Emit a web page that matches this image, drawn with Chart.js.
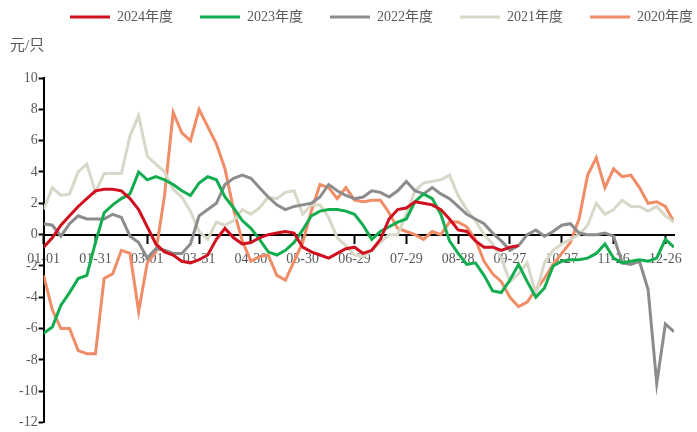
<!DOCTYPE html>
<html>
<head>
<meta charset="utf-8">
<script src="https://cdn.jsdelivr.net/npm/chart.js@4/dist/chart.umd.min.js"></script>
<style>
    html, body { margin: 0; padding: 0; background: #fff; }
    #wrap { width: 697px; height: 432px; }
</style>
</head>
<body>
<div id="wrap"><canvas id="chartPrice" width="697" height="432"></canvas></div>
<script>
// day of year for each sample (every 5 days)
const days = [0, 5, 10, 15, 20, 25, 30, 35, 40, 45, 50, 55, 60, 65, 70, 75, 80, 85, 90, 95,
    100, 105, 110, 115, 120, 125, 130, 135, 140, 145, 150, 155, 160, 165, 170, 175, 180, 185, 190, 195,
    200, 205, 210, 215, 220, 225, 230, 235, 240, 245, 250, 255, 260, 265, 270, 275, 280, 285, 290, 295,
    300, 305, 310, 315, 320, 325, 330, 335, 340, 345, 350, 355, 360, 365];

const tickDays = [0, 30, 60, 90, 120, 150, 180, 210, 240, 270, 300, 330, 360];
const tickLabels = ["01-01", "01-31", "03-01", "03-31", "04-30", "05-30", "06-29",
    "07-29", "08-28", "09-27", "10-27", "11-26", "12-26"];

const seriesNames = ["2024年度", "2023年度", "2022年度", "2021年度", "2020年度"];

const y2024 = [-0.8, -0.2, 0.6, 1.2, 1.8, 2.3, 2.8, 2.9, 2.9, 2.8,
    2.3, 1.6, 0.5, -0.6, -1.1, -1.3, -1.7, -1.8, -1.6, -1.3,
    -0.3, 0.4, -0.2, -0.6, -0.5, -0.2, 0.0, 0.1, 0.2, 0.1,
    -0.8, -1.1, -1.3, -1.5, -1.2, -0.9, -0.8, -1.2, -1.0, -0.3,
    1.0, 1.6, 1.7, 2.1, 2.0, 1.9, 1.6, 1.0, 0.3, 0.2,
    -0.4, -0.8, -0.8, -1.0, -0.8, -0.7, null, null, null, null,
    null, null, null, null, null, null, null, null, null, null,
    null, null, null, null];

const y2023 = [-6.3, -5.9, -4.5, -3.7, -2.8, -2.6, -0.5, 1.4, 1.9, 2.3,
    2.6, 4.0, 3.5, 3.7, 3.5, 3.2, 2.8, 2.5, 3.3, 3.7,
    3.5, 2.4, 1.7, 0.9, 0.4, -0.3, -1.1, -1.3, -1.0, -0.5,
    0.3, 1.2, 1.5, 1.6, 1.6, 1.5, 1.3, 0.6, -0.3, 0.2,
    0.5, 0.8, 1.0, 2.1, 2.6, 2.3, 1.3, -0.4, -1.2, -1.9,
    -1.8, -2.6, -3.6, -3.7, -2.9, -1.9, -3.0, -4.0, -3.4, -2.0,
    -1.7, -1.6, -1.6, -1.5, -1.2, -0.6, -1.5, -1.8, -1.7, -1.6,
    -1.7, -1.5, -0.3, -0.8];

const y2022 = [0.7, 0.6, -0.1, 0.7, 1.2, 1.0, 1.0, 1.0, 1.3, 1.1,
    -0.1, -0.5, -1.5, -0.9, -1.0, -1.2, -1.2, -0.6, 1.2, 1.6,
    2.0, 3.2, 3.6, 3.8, 3.6, 3.0, 2.4, 1.9, 1.6, 1.8,
    1.9, 2.0, 2.4, 3.2, 2.8, 2.5, 2.3, 2.4, 2.8, 2.7,
    2.4, 2.8, 3.4, 2.8, 2.6, 3.0, 2.6, 2.3, 1.8, 1.3,
    1.0, 0.7, 0.1, -0.4, -1.0, -0.7, 0.0, 0.3, -0.1, 0.2,
    0.6, 0.7, 0.1, 0.0, 0.0, 0.1, -0.1, -1.8, -1.9, -1.7,
    -3.5, -9.5, -5.7, -6.2];

const y2021 = [1.6, 3.0, 2.5, 2.6, 4.0, 4.5, 2.7, 3.9, 3.9, 3.9,
    6.3, 7.6, 5.0, 4.5, 4.0, 2.9, 2.4, 1.5, 0.2, -0.3,
    0.8, 0.6, 0.9, 1.6, 1.3, 1.7, 2.4, 2.3, 2.7, 2.8,
    1.3, 1.9, 1.9, 1.1, -0.2, -0.7, -1.3, -1.4, -1.0, -0.5,
    0.0, 0.0, 1.3, 2.8, 3.3, 3.4, 3.5, 3.8, 2.5, 1.6,
    0.9, 0.0, -0.6, -1.5, -3.0, -2.5, -1.8, -3.8, -1.8, -1.0,
    -0.6, -0.3, 0.0, 0.6, 2.0, 1.3, 1.6, 2.2, 1.8, 1.8,
    1.5, 1.8, 1.2, 0.8];

const y2020 = [-2.6, -4.8, -6.0, -6.0, -7.4, -7.6, -7.6, -2.8, -2.5, -1.0,
    -1.2, -4.9, -1.8, -1.1, 2.5, 7.8, 6.5, 6.0, 8.0, 6.9,
    5.8, 4.2, 1.6, -0.4, -1.7, -1.4, -1.3, -2.6, -2.9, -1.7,
    -0.5, 1.5, 3.2, 3.0, 2.3, 3.0, 2.2, 2.1, 2.2, 2.2,
    1.4, 0.4, 0.2, 0.0, -0.3, 0.2, 0.0, 0.8, 0.8, 0.5,
    -0.3, -1.7, -2.5, -3.0, -4.0, -4.6, -4.3, -3.5, -2.8, -1.9,
    -1.2, -0.5, 1.0, 3.8, 4.9, 3.0, 4.2, 3.7, 3.8, 3.0,
    2.0, 2.1, 1.8, 0.8];

const seriesValues = [y2024, y2023, y2022, y2021, y2020];
const seriesColors = ["#d0101f", "#12ad4f", "#8c8c8c", "#d8d8c9", "#f08c66"];

const labelFont = "'Liberation Serif', 'Noto Sans CJK SC', serif";

// push the legend row over to the right edge like the original
const legendShift = {
    id: "legendShift",
    afterLayout(chart) {
        chart.legend.left += 23;
        chart.legend.right += 23;
    }
};

const datasets = seriesNames.map((name, i) => ({
    label: name,
    data: seriesValues[i].map((v, j) => ({ x: days[j], y: v })),
    borderColor: seriesColors[i],
    backgroundColor: seriesColors[i],
    borderWidth: 3,
    pointRadius: 0,
    tension: 0,
    spanGaps: false
}));

new Chart(document.getElementById("chartPrice"), {
    type: "line",
    data: { datasets },
    options: {
        responsive: false,
        animation: false,
        layout: { padding: { top: -17, left: 10, right: 0, bottom: 5 } },
        plugins: {
            legend: {
                position: "top",
                align: "end",
                labels: {
                    boxWidth: 40,
                    boxHeight: 3,
                    padding: 27,
                    color: "#595959",
                    font: { size: 14, family: labelFont },
                    generateLabels(chart) {
                        const items = Chart.defaults.plugins.legend.labels.generateLabels(chart);
                        items.forEach(it => { it.lineWidth = 0; });
                        return items;
                    }
                }
            },
            // unit label, placed between legend and plot
            title: {
                display: true,
                text: "元/只",
                align: "start",
                position: "top",
                weight: 500,
                color: "#595959",
                font: { size: 15, weight: "normal", family: labelFont },
                padding: { top: 3, bottom: 23 }
            },
            tooltip: { enabled: false }
        },
        scales: {
            x: {
                type: "linear",
                position: { y: 0 },
                min: 0,
                max: 365,
                afterBuildTicks: axis => {
                    axis.ticks = tickDays.map(v => ({ value: v }));
                },
                ticks: {
                    autoSkip: false,
                    maxRotation: 0,
                    padding: 8,
                    color: "#595959",
                    font: { size: 14, family: labelFont },
                    callback: (v, i) => tickLabels[i]
                },
                grid: { drawOnChartArea: false, tickLength: 8, tickWidth: 2, color: "#000" },
                border: { color: "#000", width: 2 }
            },
            y: {
                min: -12,
                max: 10,
                afterFit: scale => { scale.width += 8; },
                ticks: {
                    stepSize: 2,
                    padding: 1,
                    color: "#595959",
                    font: { size: 14, family: labelFont }
                },
                grid: { drawOnChartArea: false, tickLength: 5, tickWidth: 2, color: "#000" },
                border: { color: "#000", width: 2 }
            },
            // empty right-hand gutter so the plot stops short of the edge
            yGutter: {
                position: "right",
                min: -12,
                max: 10,
                afterFit: scale => { scale.width = 23; },
                ticks: { display: false },
                grid: { display: false },
                border: { display: false }
            }
        }
    },
    plugins: [legendShift]
});
</script>
</body>
</html>
